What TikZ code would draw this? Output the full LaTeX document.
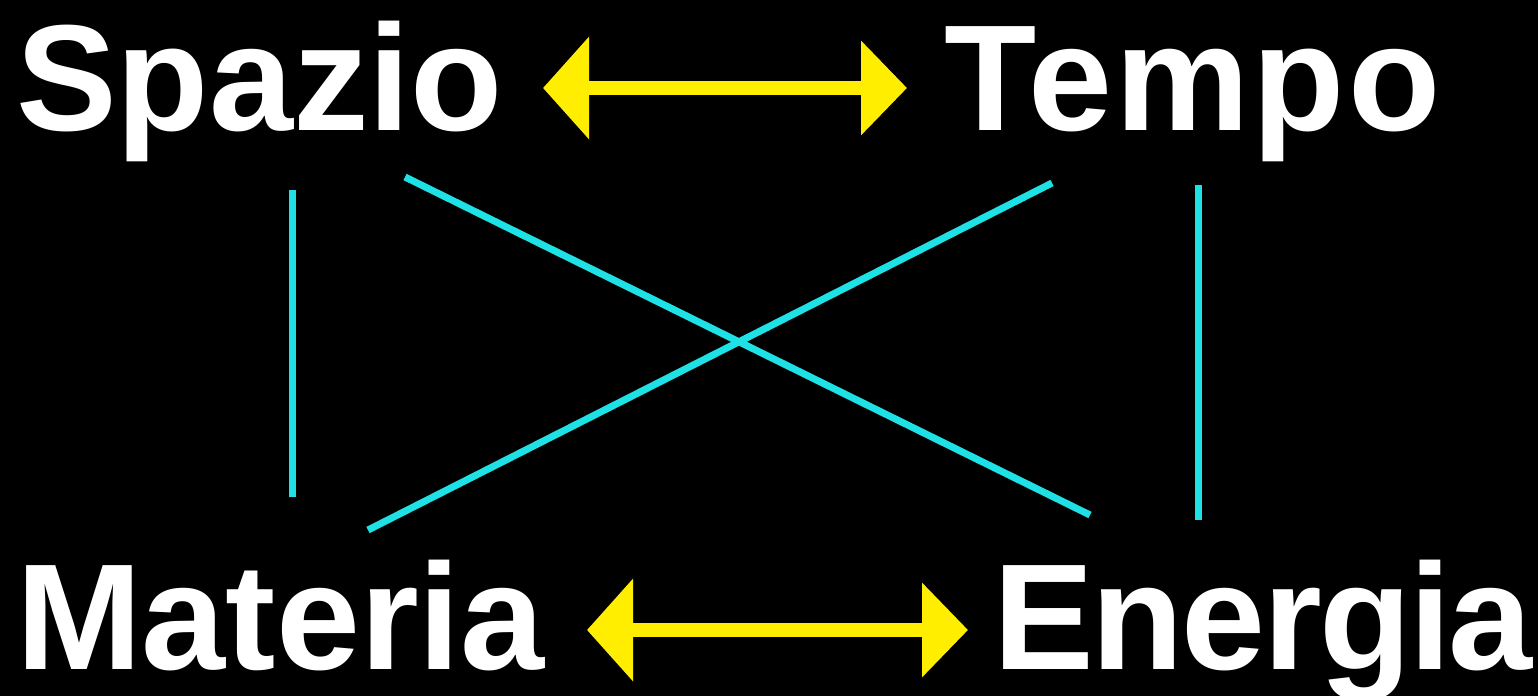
\documentclass[tikz,border=0pt]{standalone}
\usepackage{fontspec}
\setmainfont{Liberation Sans}
\usetikzlibrary{arrows.meta}
\definecolor{myyellow}{RGB}{255,238,0}
\definecolor{mycyan}{RGB}{30,225,230}
\begin{document}
\begin{tikzpicture}[x=1pt,y=-1pt,
  word/.style={text=white,inner sep=0pt,anchor=base west,font=\bfseries\fontsize{151}{151}\selectfont},
  yarrow/.style={draw=myyellow,line width=14pt,{Triangle[length=46pt,width=100pt]}-{Triangle[length=46pt,width=92pt]},myyellow},
  cline/.style={draw=mycyan,line width=7pt}]
\fill[black] (0,0) rectangle (1538,696);
\useasboundingbox (0,0) rectangle (1538,696);
\node[word] (sp) at (16,130) {Spazio};
\node[word] (te) at (944,130) {\addfontfeatures{LetterSpace=2.1}Tempo};
\node[word] (ma) at (16,669) {Materia};
\node[word] (en) at (993,669) {\addfontfeatures{LetterSpace=-1.6}Energia};
\coordinate (a1) at (543,88);
\coordinate (a2) at (907,88);
\coordinate (b1) at (587,630);
\coordinate (b2) at (968,630);
\draw[yarrow] (a1) -- (a2);
\draw[yarrow] (b1) -- (b2);
\coordinate (l1) at (292,190);
\coordinate (l2) at (292,497);
\coordinate (r1) at (1198,185);
\coordinate (r2) at (1198,520);
\coordinate (d1) at (405,177);
\coordinate (d2) at (1090,515);
\coordinate (e1) at (1052,183);
\coordinate (e2) at (368,530);
\draw[cline] (l1) -- (l2);
\draw[cline] (r1) -- (r2);
\draw[cline] (d1) -- (d2);
\draw[cline] (e1) -- (e2);
\end{tikzpicture}
\end{document}
